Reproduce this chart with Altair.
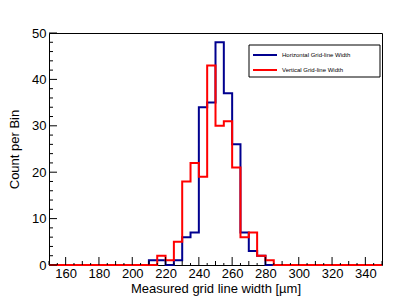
import altair as alt
import pandas as pd

# ---- data ----
bin_low = list(range(150, 350, 5))          # 40 bins of 5 um, 150..350
bin_width = 5
horizontal = [0] * 12 + [1, 1, 0, 1, 6, 7, 34, 35, 48, 37, 26, 7, 3, 2] + [0] * 14
vertical = [0] * 13 + [2, 1, 5, 18, 22, 19, 43, 30, 31, 21, 6, 7, 2, 1] + [0] * 13
series_names = ["Horizontal Grid-line Width", "Vertical Grid-line Width"]
series_colors = ["#00008f", "#ff0000"]

x_labels = list(range(160, 341, 20))
x_major = list(range(160, 341, 20))
x_mid = [v for v in range(150, 351, 10) if v not in x_major]
x_minor = list(range(155, 350, 10))
y_labels = list(range(0, 51, 10))
y_minor = [v for v in range(0, 51, 2) if v % 10 != 0]

FONT = "Liberation Sans"
W, H = 333, 232


def step_frame(counts, name):
    rows = [{"v": b, "n": c, "series": name} for b, c in zip(bin_low, counts)]
    rows.append({"v": bin_low[-1] + bin_width, "n": counts[-1], "series": name})
    return pd.DataFrame(rows)


xscale = alt.Scale(domain=[150, 350], nice=False, zero=False)
yscale = alt.Scale(domain=[0, 50], nice=False, zero=True)

x_axis = alt.Axis(
    values=x_labels, ticks=False, tickSize=0, domain=False, grid=False,
    labelFont=FONT, labelFontSize=13, labelColor="black", labelPadding=2,
    title="Measured grid line width [\u00b5m]", titleFont=FONT, titleFontSize=13,
    titleFontWeight="normal", titleColor="black", titleX=W / 2, titleY=27,
    titleAlign="center", titleBaseline="alphabetic",
)
y_axis = alt.Axis(
    values=y_labels, ticks=False, tickSize=0, domain=False, grid=False,
    labelFont=FONT, labelFontSize=13, labelColor="black", labelPadding=3,
    title="Count per Bin", titleFont=FONT, titleFontSize=13,
    titleFontWeight="normal", titleColor="black", titleX=-31, titleY=H / 2,
    titleAngle=270, titleAlign="center", titleBaseline="alphabetic",
)

XE = alt.X("v:Q", scale=xscale, axis=x_axis)
YE = alt.Y("n:Q", scale=yscale, axis=y_axis)

blue = alt.Chart(step_frame(horizontal, series_names[0])).mark_line(
    interpolate="step-after", strokeWidth=2, color=series_colors[0]
).encode(x=XE, y=YE)
red = alt.Chart(step_frame(vertical, series_names[1])).mark_line(
    interpolate="step-after", strokeWidth=2, color=series_colors[1]
).encode(x=XE, y=YE)


def xticks(vals, length):
    return alt.Chart(pd.DataFrame({"v": vals})).mark_rule(color="black", strokeWidth=1).encode(
        x=XE, y=alt.value(H), y2=alt.value(H - length),
    )


def yticks(vals, length):
    return alt.Chart(pd.DataFrame({"n": vals})).mark_rule(color="black", strokeWidth=1).encode(
        y=YE, x=alt.value(0), x2=alt.value(length),
    )


one = pd.DataFrame({"k": [0]})
leg_box = alt.Chart(one).mark_rect(fill="white", stroke="black", strokeWidth=1).encode(
    x=alt.value(200), x2=alt.value(331), y=alt.value(12), y2=alt.value(44)
)
leg_layers = [leg_box]
for i, (name, col) in enumerate(zip(series_names, series_colors)):
    yy = 22 + i * 15
    leg_layers.append(
        alt.Chart(one).mark_rule(color=col, strokeWidth=2).encode(
            x=alt.value(204), x2=alt.value(228), y=alt.value(yy)
        )
    )
    leg_layers.append(
        alt.Chart(pd.DataFrame({"label": [name]})).mark_text(
            align="left", baseline="middle", font=FONT, fontSize=6, color="black"
        ).encode(x=alt.value(233), y=alt.value(yy), text="label:N")
    )

chart = alt.layer(
    blue, red,
    xticks(x_minor, 2), xticks(x_mid, 4), xticks(x_major, 8),
    yticks(y_minor, 4), yticks(y_labels, 8),
    *leg_layers,
).properties(
    width=W, height=H,
    autosize=alt.AutoSizeParams(type="none"),
    padding={"left": 41, "top": 25, "right": 25, "bottom": 31},
    background="white",
).configure_view(stroke="black", strokeWidth=1)

chart.save("out.html", embed_options={"renderer": "svg", "actions": False})
